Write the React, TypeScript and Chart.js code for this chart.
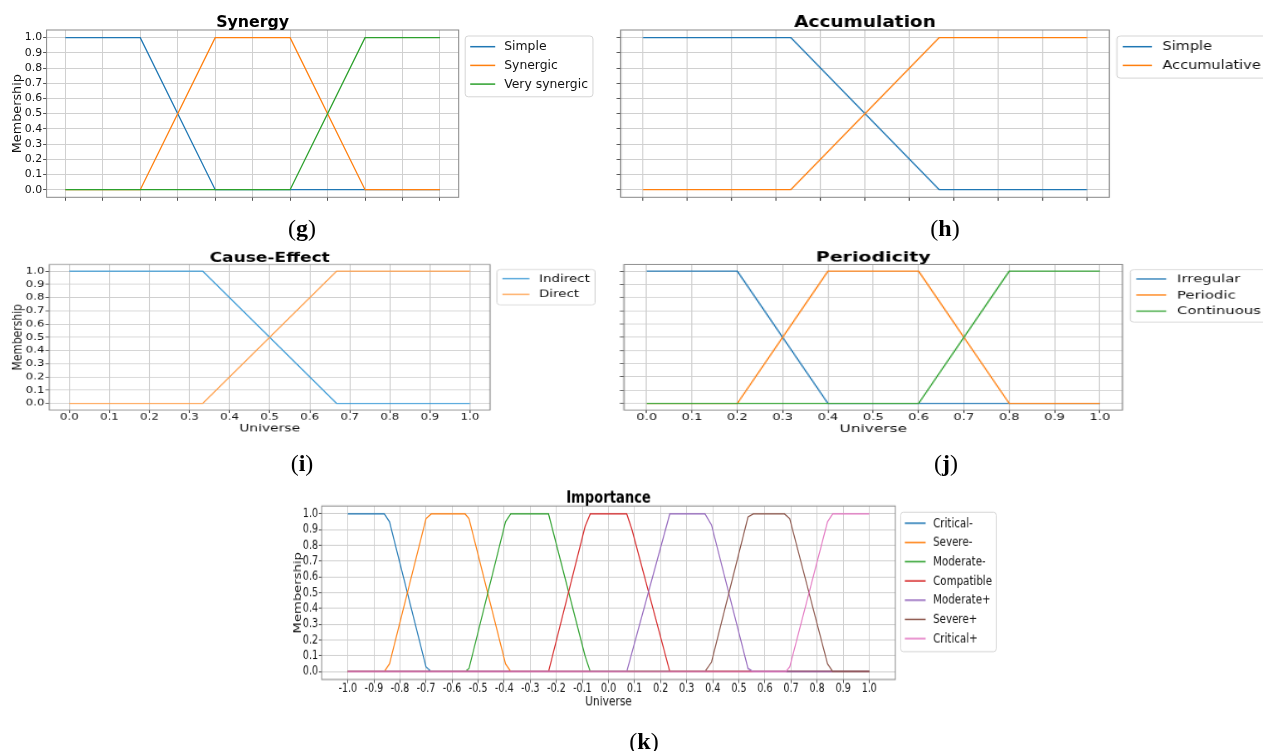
import React, { useEffect, useRef } from 'react';
import { Chart, registerables } from 'chart.js';

Chart.register(...registerables);

type Pt = [number, number];

// ---------------- Tick values ----------------
const unitTicks = [0, 0.1, 0.2, 0.3, 0.4, 0.5, 0.6, 0.7, 0.8, 0.9, 1.0];
const membershipTicks = [0, 0.1, 0.2, 0.3, 0.4, 0.5, 0.6, 0.7, 0.8, 0.9, 1.0];
const importanceTicks = [-1.0, -0.9, -0.8, -0.7, -0.6, -0.5, -0.4, -0.3, -0.2, -0.1, 0, 0.1, 0.2, 0.3, 0.4, 0.5, 0.6, 0.7, 0.8, 0.9, 1.0];

// ---------------- (g) Synergy ----------------
const synergyLabels = ['Simple', 'Synergic', 'Very synergic'];
const synergySimple: Pt[] = [[0, 1], [0.2, 1], [0.4, 0], [1, 0]];
const synergySynergic: Pt[] = [[0, 0], [0.2, 0], [0.4, 1], [0.6, 1], [0.8, 0], [1, 0]];
const synergyVery: Pt[] = [[0, 0], [0.6, 0], [0.8, 1], [1, 1]];

// ---------------- (h) Accumulation ----------------
const accumulationLabels = ['Simple', 'Accumulative'];
const accumulationSimple: Pt[] = [[0, 1], [0.333, 1], [0.667, 0], [1, 0]];
const accumulationAccumulative: Pt[] = [[0, 0], [0.333, 0], [0.667, 1], [1, 1]];

// ---------------- (i) Cause-Effect ----------------
const causeLabels = ['Indirect', 'Direct'];
const causeIndirect: Pt[] = [[0, 1], [0.333, 1], [0.667, 0], [1, 0]];
const causeDirect: Pt[] = [[0, 0], [0.333, 0], [0.667, 1], [1, 1]];

// ---------------- (j) Periodicity ----------------
const periodicityLabels = ['Irregular', 'Periodic', 'Continuous'];
const periodicityIrregular: Pt[] = [[0, 1], [0.2, 1], [0.4, 0], [1, 0]];
const periodicityPeriodic: Pt[] = [[0, 0], [0.2, 0], [0.4, 1], [0.6, 1], [0.8, 0], [1, 0]];
const periodicityContinuous: Pt[] = [[0, 0], [0.6, 0], [0.8, 1], [1, 1]];

// ---------------- (k) Importance ----------------
const importanceLabels = ['Critical-', 'Severe-', 'Moderate-', 'Compatible', 'Moderate+', 'Severe+', 'Critical+'];
const impCriticalMinus: Pt[] = [[-1, 1], [-0.86, 1], [-0.84, 0.95], [-0.7, 0.03], [-0.68, 0], [1, 0]];
const impSevereMinus: Pt[] = [[-1, 0], [-0.86, 0], [-0.84, 0.05], [-0.7, 0.97], [-0.68, 1], [-0.55, 1], [-0.535, 0.97], [-0.395, 0.05], [-0.375, 0], [1, 0]];
const impModerateMinus: Pt[] = [[-1, 0], [-0.55, 0], [-0.535, 0.02], [-0.395, 0.95], [-0.375, 1], [-0.23, 1], [-0.09, 0.1], [-0.07, 0], [1, 0]];
const impCompatible: Pt[] = [[-1, 0], [-0.23, 0], [-0.09, 0.92], [-0.07, 1], [0.07, 1], [0.09, 0.9], [0.235, 0], [1, 0]];
const impModeratePlus: Pt[] = [[-1, 0], [0.07, 0], [0.235, 1], [0.37, 1], [0.395, 0.93], [0.535, 0.02], [0.555, 0], [1, 0]];
const impSeverePlus: Pt[] = [[-1, 0], [0.37, 0], [0.395, 0.06], [0.535, 0.98], [0.555, 1], [0.675, 1], [0.695, 0.97], [0.84, 0.05], [0.86, 0], [1, 0]];
const impCriticalPlus: Pt[] = [[-1, 0], [0.68, 0], [0.695, 0.03], [0.84, 0.95], [0.86, 1], [1, 1]];

// ---------------- Styles ----------------
const C_BLUE = '#1f77b4';
const C_ORANGE = '#ff7f0e';
const C_GREEN = '#2ca02c';
const C_RED = '#d62728';
const C_PURPLE = '#9467bd';
const C_BROWN = '#8c564b';
const C_PINK = '#e377c2';
const C_LIGHTBLUE = '#3a9ad6';
const C_LIGHTORANGE = '#ff9f4a';

const FONT = "'DejaVu Sans', sans-serif";
const LABEL_SIZE = 12.8;
const LEGEND_SIZE = 12.4;
const TITLE_SIZE = 15.8;
const TEXT_COLOR = '#111111';
const GRID_COLOR = '#d0d0d0';
const FRAME_COLOR = '#888888';

interface Series { label: string; points: Pt[]; color: string }
interface Panel {
  key: string;
  title: string;
  series: Series[];
  left: number; top: number; width: number; height: number;
  sx: number; sy: number;
  area: { l: number; r: number; t: number; b: number };
  xMin: number; xMax: number; xTicks: number[];
  xLabels: boolean; xTitle: boolean; yLabels: boolean; yTitle: boolean;
  lineWidth: number;
  tickSize: number;
}

const panels: Panel[] = [
  {
    key: 'g', title: 'Synergy',
    series: [
      { label: synergyLabels[0], points: synergySimple, color: C_BLUE },
      { label: synergyLabels[1], points: synergySynergic, color: C_ORANGE },
      { label: synergyLabels[2], points: synergyVery, color: C_GREEN },
    ],
    left: 0, top: 0, width: 600, height: 240, sx: 1, sy: 1,
    area: { l: 46.6, r: 458.7, t: 30, b: 197.3 },
    xMin: -0.05, xMax: 1.05, xTicks: unitTicks,
    xLabels: false, xTitle: false, yLabels: true, yTitle: true, lineWidth: 1.3, tickSize: 10.9,
  },
  {
    key: 'h', title: 'Accumulation',
    series: [
      { label: accumulationLabels[0], points: accumulationSimple, color: C_BLUE },
      { label: accumulationLabels[1], points: accumulationAccumulative, color: C_ORANGE },
    ],
    left: 600, top: 0, width: 663, height: 240, sx: 1.17, sy: 1,
    area: { l: 620.7, r: 1109.3, t: 30, b: 197.3 },
    xMin: -0.05, xMax: 1.05, xTicks: unitTicks,
    xLabels: false, xTitle: false, yLabels: false, yTitle: false, lineWidth: 1.2, tickSize: 10.9,
  },
  {
    key: 'i', title: 'Cause-Effect',
    series: [
      { label: causeLabels[0], points: causeIndirect, color: C_LIGHTBLUE },
      { label: causeLabels[1], points: causeDirect, color: C_LIGHTORANGE },
    ],
    left: 0, top: 240, width: 600, height: 230, sx: 1.08, sy: 0.84,
    area: { l: 49.3, r: 490, t: 264.5, b: 410 },
    xMin: -0.05, xMax: 1.05, xTicks: unitTicks,
    xLabels: true, xTitle: true, yLabels: true, yTitle: true, lineWidth: 1.3, tickSize: 10.9,
  },
  {
    key: 'j', title: 'Periodicity',
    series: [
      { label: periodicityLabels[0], points: periodicityIrregular, color: C_BLUE },
      { label: periodicityLabels[1], points: periodicityPeriodic, color: C_ORANGE },
      { label: periodicityLabels[2], points: periodicityContinuous, color: C_GREEN },
    ],
    left: 600, top: 240, width: 663, height: 230, sx: 1.2, sy: 0.86,
    area: { l: 624, r: 1122.5, t: 264.5, b: 410 },
    xMin: -0.05, xMax: 1.05, xTicks: unitTicks,
    xLabels: true, xTitle: true, yLabels: false, yTitle: false, lineWidth: 1.2, tickSize: 10.9,
  },
  {
    key: 'k', title: 'Importance',
    series: [
      { label: importanceLabels[0], points: impCriticalMinus, color: C_BLUE },
      { label: importanceLabels[1], points: impSevereMinus, color: C_ORANGE },
      { label: importanceLabels[2], points: impModerateMinus, color: C_GREEN },
      { label: importanceLabels[3], points: impCompatible, color: C_RED },
      { label: importanceLabels[4], points: impModeratePlus, color: C_PURPLE },
      { label: importanceLabels[5], points: impSeverePlus, color: C_BROWN },
      { label: importanceLabels[6], points: impCriticalPlus, color: C_PINK },
    ],
    left: 280, top: 480, width: 720, height: 250, sx: 0.83, sy: 1.03,
    area: { l: 321.7, r: 895.3, t: 506, b: 679.5 },
    xMin: -1.1, xMax: 1.1, xTicks: importanceTicks,
    xLabels: true, xTitle: true, yLabels: true, yTitle: true, lineWidth: 1.25, tickSize: 11.5,
  },
];

const captions = [
  { letter: 'g', x: 302, y: 228 },
  { letter: 'h', x: 945, y: 228 },
  { letter: 'i', x: 302, y: 463 },
  { letter: 'j', x: 946, y: 463 },
  { letter: 'k', x: 644, y: 741 },
];

function decorPlugin(p: Panel) {
  return {
    id: 'mplDecor',
    afterDraw(chart: any) {
      const { ctx, chartArea: a } = chart;
      ctx.save();
      // full axes frame
      ctx.strokeStyle = FRAME_COLOR;
      ctx.lineWidth = 1;
      ctx.strokeRect(a.left, a.top, a.right - a.left, a.bottom - a.top);
      // title
      ctx.fillStyle = '#000';
      ctx.font = `bold ${TITLE_SIZE}px ${FONT}`;
      ctx.textAlign = 'center';
      ctx.textBaseline = 'alphabetic';
      ctx.fillText(p.title, (a.left + a.right) / 2, a.top - 3.3);
      // legend
      const ds = chart.data.datasets;
      ctx.font = `${LEGEND_SIZE}px ${FONT}`;
      let maxW = 0;
      ds.forEach((d: any) => { maxW = Math.max(maxW, ctx.measureText(d.label).width); });
      const bx = a.right + 6.5;
      const by = a.top + 6;
      const rowH = 18.7;
      const bw = 39 + maxW + 5;
      const bh = 10.7 + (ds.length - 1) * rowH + 12.7;
      ctx.beginPath();
      if ((ctx as any).roundRect) (ctx as any).roundRect(bx, by, bw, bh, 3);
      else ctx.rect(bx, by, bw, bh);
      ctx.fillStyle = 'rgba(255,255,255,0.8)';
      ctx.fill();
      ctx.strokeStyle = '#d5d5d5';
      ctx.lineWidth = 1;
      ctx.stroke();
      ds.forEach((d: any, i: number) => {
        const y = by + 10.7 + i * rowH;
        ctx.beginPath();
        ctx.moveTo(bx + 5, y);
        ctx.lineTo(bx + 30, y);
        ctx.strokeStyle = d.borderColor;
        ctx.lineWidth = 1.5;
        ctx.stroke();
        ctx.fillStyle = TEXT_COLOR;
        ctx.textAlign = 'left';
        ctx.textBaseline = 'middle';
        ctx.fillText(d.label, bx + 39, y + 0.5);
      });
      ctx.restore();
    },
  };
}

function PanelChart({ p }: { p: Panel }) {
  const ref = useRef<HTMLCanvasElement>(null);
  const CW = Math.round(p.width / p.sx);
  const CH = Math.round(p.height / p.sy);
  const sx = p.width / CW;
  const sy = p.height / CH;

  useEffect(() => {
    const canvas = ref.current;
    if (!canvas) return;
    const aL = (p.area.l - p.left) / sx;
    const aR = (p.area.r - p.left) / sx;
    const aT = (p.area.t - p.top) / sy;
    const aB = (p.area.b - p.top) / sy;
    const half = (LABEL_SIZE * 1.2) / 2;
    const yAxisW = p.yTitle ? 28.7 + half : 8;
    const xAxisH = p.xTitle ? 22.2 + half : 8;
    const padding = { left: aL - yAxisW, right: CW - aR, top: aT, bottom: CH - aB - xAxisH };

    const n = p.series.length;
    const datasets = p.series.map((s, i) => ({
      label: s.label,
      data: s.points.map(([x, y]) => ({ x, y })),
      borderColor: s.color,
      backgroundColor: s.color,
      borderWidth: p.lineWidth,
      pointRadius: 0,
      pointHoverRadius: 0,
      tension: 0,
      fill: false,
      order: n - i,
    }));

    const tickFont = { family: FONT, size: p.tickSize, lineHeight: 1 };
    const titleFont = { family: FONT, size: LABEL_SIZE, lineHeight: 1.2 };

    const chart = new Chart(canvas, {
      type: 'line',
      data: { datasets },
      plugins: [decorPlugin(p)],
      options: {
        animation: false,
        responsive: false,
        events: [],
        layout: { padding },
        plugins: {
          legend: { display: false },
          tooltip: { enabled: false },
          title: { display: false },
        },
        scales: {
          x: {
            type: 'linear',
            min: p.xMin,
            max: p.xMax,
            afterBuildTicks: (s: any) => { s.ticks = p.xTicks.map((v) => ({ value: v })); },
            afterFit: (s: any) => { s.height = xAxisH; },
            ticks: {
              display: p.xLabels,
              autoSkip: false,
              maxRotation: 0,
              minRotation: 0,
              padding: -0.4,
              color: TEXT_COLOR,
              font: tickFont,
              callback: (v: any) => Number(v).toFixed(1),
            },
            grid: { color: GRID_COLOR, lineWidth: 1, drawTicks: true, tickLength: 3.5, tickColor: '#555' },
            border: { display: false },
            title: { display: p.xTitle, text: 'Universe', color: TEXT_COLOR, font: titleFont, padding: 0 },
          },
          y: {
            type: 'linear',
            min: -0.05,
            max: 1.05,
            afterBuildTicks: (s: any) => { s.ticks = membershipTicks.map((v) => ({ value: v })); },
            afterFit: (s: any) => { s.width = yAxisW; },
            ticks: {
              display: p.yLabels,
              autoSkip: false,
              padding: 1,
              color: TEXT_COLOR,
              font: tickFont,
              callback: (v: any) => Number(v).toFixed(1),
            },
            grid: { color: GRID_COLOR, lineWidth: 1, drawTicks: true, tickLength: 3.5, tickColor: '#555' },
            border: { display: false },
            title: { display: p.yTitle, text: 'Membership', color: TEXT_COLOR, font: titleFont, padding: 0 },
          },
        },
      } as any,
    });
    return () => chart.destroy();
  }, [p]);

  return (
    <div
      style={{
        position: 'absolute',
        left: p.left,
        top: p.top,
        width: CW,
        height: CH,
        transform: `scale(${sx}, ${sy})`,
        transformOrigin: '0 0',
      }}
    >
      <canvas ref={ref} width={CW} height={CH} style={{ display: 'block', width: CW, height: CH }} />
    </div>
  );
}

export default function App() {
  return (
    <div
      style={{
        position: 'absolute',
        left: 0,
        top: 0,
        width: 1263,
        height: 751,
        overflow: 'hidden',
        background: '#fff',
      }}
    >
      {panels.map((p) => (
        <PanelChart key={p.key} p={p} />
      ))}
      {captions.map((c) => (
        <div
          key={c.letter}
          style={{
            position: 'absolute',
            left: c.x,
            top: c.y,
            transform: 'translate(-50%, -50%)',
            fontFamily: "'Liberation Serif', 'DejaVu Serif', serif",
            fontSize: 24,
            lineHeight: 1,
            color: '#000',
            whiteSpace: 'nowrap',
          }}
        >
          (<b>{c.letter}</b>)
        </div>
      ))}
    </div>
  );
}
